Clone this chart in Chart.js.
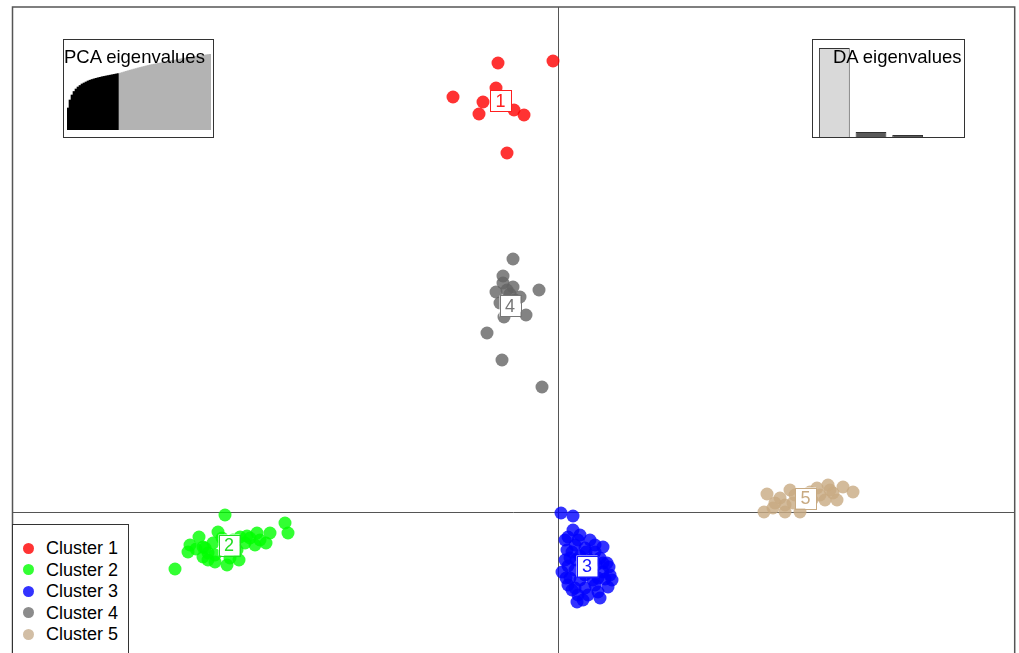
<!DOCTYPE html>
<html>
<head>
<meta charset="utf-8">
<script src="https://cdn.jsdelivr.net/npm/chart.js@4"></script>
<style>
  html, body { margin:0; padding:0; background:#fff; overflow:hidden; }
  #wrap { position:relative; width:1019px; height:653px; font-family:"Liberation Sans", Arial, sans-serif; }
  #main { position:absolute; left:0; top:0; }
  .box { position:absolute; border:1px solid #333; background:#fff; box-sizing:border-box; }
  .ttl { position:absolute; font-size:18.5px; line-height:18px; color:#000; white-space:nowrap; }
  .inset { position:absolute; }
  .lg { position:absolute; font-size:18px; line-height:18px; color:#000; white-space:nowrap; }
  .dot { position:absolute; width:11px; height:11px; border-radius:50%; }
</style>
</head>
<body>
<div id="wrap">
  <canvas id="main" width="1019" height="653"></canvas>
</div>
<script>
// ---- data (discriminant function scores) ----
const clusterNames = ['Cluster 1', 'Cluster 2', 'Cluster 3', 'Cluster 4', 'Cluster 5'];
const clusterLabels = ['1', '2', '3', '4', '5'];

const c1x = [-6.0, -0.5, -6.2, -10.5, -7.5, -7.9, -4.4, -3.4, -5.1, -5.8];
const c1y = [44.9, 45.1, 42.4, 41.5, 41.0, 39.8, 40.2, 39.7, 35.9, 40.8];

const c2x = [-33.3, -27.3, -27.0, -28.8, -29.2, -30.1, -31.1, -31.3, -31.9, -33.1, -35.0, -37.0, -38.3, -35.9, -35.5, -34.0, -34.5, -31.8, -32.1, -32.5, -35.0, -35.5, -30.8, -32.8, -36.2, -29.8,
             -35.3, -34.3, -33.6, -30.3, -34.3, -36.8];
const c2y = [-0.3, -1.1, -2.1, -2.1, -3.1, -2.1, -2.4, -3.1, -4.8, -5.3, -4.8, -4.0, -5.7, -2.5, -3.5, -2.0, -3.1, -2.5, -3.8, -2.8, -4.1, -4.5, -2.6, -4.6, -3.7, -2.8,
             -3.6, -4.3, -2.6, -3.3, -5.0, -3.3];

const c3x = [0.3, 1.5, 1.5, 1.0, 2.2, 3.2, 4.5, 0.9, 1.7, 2.7, 3.7, 1.2, 2.2, 4.2, 4.9, 0.4, 1.0, 1.7, 3.2, 4.5, 5.1, 1.2, 2.2, 3.5, 4.7, 1.7, 2.7, 4.0, 5.0, 3.0, 1.9, 2.5, 3.8, 1.4, 0.7,
             0.7, 2.0, 3.7, 1.4, 3.2, 4.5, 0.8, 2.7, 4.0, 5.2, 2.0, 3.7, 1.0, 5.4, 2.8, 1.8, 4.2, 2.5];
const c3y = [-0.1, -0.4, -1.8, -2.5, -2.3, -2.8, -3.5, -3.8, -3.3, -3.6, -4.0, -4.6, -4.4, -4.6, -5.1, -6.0, -5.4, -5.8, -6.0, -6.0, -5.5, -6.6, -6.8, -6.8, -6.7, -7.6, -7.6, -8.0, -7.5, -8.3, -9.0, -5.1, -5.3, -7.8, -4.8,
             -2.8, -2.8, -3.3, -4.0, -4.8, -5.1, -6.6, -6.3, -6.6, -6.3, -8.3, -7.3, -7.3, -6.8, -4.0, -4.8, -8.6, -8.8];

const c4x = [-4.5, -5.5, -5.5, -4.5, -6.2, -1.9, -3.8, -5.8, -3.2, -5.4, -7.1, -5.6, -1.6, -4.8, -5.0, -5.1, -4.3];
const c4y = [25.3, 23.6, 22.9, 22.5, 22.0, 22.2, 21.5, 20.9, 19.7, 19.5, 17.9, 15.2, 12.5, 21.8, 20.7, 22.2, 21.2];

const c5x = [20.9, 20.6, 22.7, 24.2, 22.2, 23.2, 27.0, 28.5, 29.5, 27.9, 26.2, 25.9, 21.7, 23.5, 26.7, 27.5, 21.5, 25.2, 23.7, 25.4, 22.7, 27.2];
const c5y = [1.8, 0.0, 0.0, 0.0, 1.4, 2.2, 2.7, 2.5, 2.0, 1.2, 1.7, 2.4, 0.9, 0.9, 1.2, 1.9, 0.4, 2.0, 1.7, 1.2, 0.7, 2.2];

// cluster centroids (label positions)
const centroidX = [-5.75, -32.9, 2.9, -4.8, 24.75];
const centroidY = [41.1, -3.3, -5.4, 20.6, 1.4];

// inset: cumulative PCA eigenvalues (first 26 retained)
const pcaCumEig = [22, 30, 35, 38.5, 41, 43, 44.5, 46, 47, 48, 49, 49.8, 50.5, 51.1, 51.7, 52.2, 52.7, 53.2, 53.6, 54,
                   54.4, 54.8, 55.2, 55.6, 56, 56.4, 56.8, 57.4, 58, 58.6, 59.2, 59.8, 60.3, 60.9, 61.4, 62, 62.5, 63, 63.5, 64,
                   64.5, 65, 65.4, 65.8, 66.2, 66.6, 67, 67.4, 67.8, 68.2, 68.6, 69, 69.4, 69.8, 70.2, 70.6, 71, 71.4, 71.8, 72.1,
                   72.4, 72.7, 73, 73.3, 73.6, 73.9, 74.2, 74.5, 74.8, 75.1, 75.4, 75.7];
const pcaRetained = 26;
// inset: DA eigenvalues
const daEig = [890, 50, 20];

// ---- styles ----
const colors = ['rgba(255,0,0,0.8)', 'rgba(0,255,0,0.8)', 'rgba(0,0,255,0.8)', 'rgba(100,100,100,0.8)', 'rgba(200,170,130,0.8)'];
const solid = ['#ff2020', '#22dd22', '#1a1aff', '#777777', '#c8aa82'];
const legendColors = ['#ff3333', '#33ff33', '#3333ff', '#8c8c8c', '#d2bea5'];

const xs = [c1x, c2x, c3x, c4x, c5x];
const ys = [c1y, c2y, c3y, c4y, c5y];

const datasets = clusterNames.map((name, k) => ({
  label: name,
  data: xs[k].map((v, i) => ({ x: v, y: ys[k][i] })),
  backgroundColor: colors[k],
  borderWidth: 0,
  pointRadius: 6.5,
  pointHoverRadius: 6.5
}));

const framePlugin = {
  id: 'frame',
  beforeDatasetsDraw(chart) {
    const { ctx, chartArea: a, scales: { x, y } } = chart;
    ctx.save();
    ctx.strokeStyle = '#555';
    ctx.lineWidth = 1;
    const x0 = Math.round(x.getPixelForValue(0)) + 0.5;
    const y0 = Math.round(y.getPixelForValue(0)) + 0.5;
    ctx.beginPath();
    ctx.moveTo(x0, a.top); ctx.lineTo(x0, a.bottom);
    ctx.moveTo(a.left, y0); ctx.lineTo(a.right, y0);
    ctx.stroke();
    ctx.restore();
  },
  afterDatasetsDraw(chart) {
    const { ctx, chartArea: a, scales: { x, y } } = chart;
    ctx.save();
    // cluster labels
    ctx.font = '18px "Liberation Sans", Arial, sans-serif';
    ctx.textAlign = 'center';
    ctx.textBaseline = 'middle';
    centroidX.forEach((cx, i) => {
      const px = x.getPixelForValue(cx);
      const py = y.getPixelForValue(centroidY[i]);
      ctx.fillStyle = '#fff';
      ctx.fillRect(px - 10.5, py - 10.5, 21, 21);
      ctx.strokeStyle = solid[i];
      ctx.lineWidth = 1;
      ctx.strokeRect(Math.round(px - 10.5) + 0.5, Math.round(py - 10.5) + 0.5, 21, 21);
      ctx.fillStyle = solid[i];
      ctx.fillText(clusterLabels[i], px, py + 1);
    });
    // frame
    ctx.strokeStyle = '#555';
    ctx.lineWidth = 1.5;
    ctx.beginPath();
    ctx.moveTo(a.left, a.bottom + 5);
    ctx.lineTo(a.left, a.top);
    ctx.lineTo(a.right, a.top);
    ctx.lineTo(a.right, a.bottom + 5);
    ctx.stroke();
    ctx.restore();
  }
};

new Chart(document.getElementById('main'), {
  type: 'scatter',
  data: { datasets },
  options: {
    responsive: false,
    animation: false,
    events: [],
    layout: { autoPadding: false, padding: { left: 12.5, top: 7, right: 4.3, bottom: 0 } },
    plugins: { legend: { display: false }, tooltip: { enabled: false } },
    scales: {
      x: { type: 'linear', display: false, min: -54.55, max: 45.67 },
      y: { type: 'linear', display: false, min: -14.1, max: 50.5 }
    }
  },
  plugins: [framePlugin]
});

// ---- insets ----
const wrap = document.getElementById('wrap');
function el(tag, cls, style, text) {
  const e = document.createElement(tag);
  if (cls) e.className = cls;
  Object.assign(e.style, style);
  if (text) e.textContent = text;
  wrap.appendChild(e);
  return e;
}

// PCA inset
el('div', 'box', { left: '63px', top: '39px', width: '151px', height: '99px' });
const pcaCanvas = el('canvas', 'inset', { left: '67px', top: '40px' });
pcaCanvas.width = 144; pcaCanvas.height = 90;
new Chart(pcaCanvas, {
  type: 'bar',
  data: {
    labels: pcaCumEig.map((_, i) => String(i + 1)),
    datasets: [{
      data: pcaCumEig,
      backgroundColor: pcaCumEig.map((_, i) => i < pcaRetained ? '#000000' : '#b3b3b3'),
      borderWidth: 0,
      barPercentage: 1,
      categoryPercentage: 1
    }]
  },
  options: {
    responsive: false, animation: false, events: [],
    layout: { autoPadding: false, padding: 0 },
    plugins: { legend: { display: false }, tooltip: { enabled: false } },
    scales: { x: { display: false }, y: { display: false, min: 0, max: 90 } }
  }
});
el('div', 'ttl', { left: '64px', top: '48px' }, 'PCA eigenvalues');

// DA inset
el('div', 'box', { left: '812px', top: '39px', width: '153px', height: '99px' });
const daCanvas = el('canvas', 'inset', { left: '816px', top: '40px' });
daCanvas.width = 110; daCanvas.height = 97;
new Chart(daCanvas, {
  type: 'bar',
  data: {
    labels: daEig.map((_, i) => String(i + 1)),
    datasets: [{
      data: daEig,
      backgroundColor: daEig.map((_, i) => i === 0 ? '#d9d9d9' : '#595959'),
      borderColor: '#333',
      borderWidth: 1,
      barPercentage: 0.84,
      categoryPercentage: 1
    }]
  },
  options: {
    responsive: false, animation: false, events: [],
    layout: { autoPadding: false, padding: 0 },
    plugins: { legend: { display: false }, tooltip: { enabled: false } },
    scales: { x: { display: false }, y: { display: false, min: 0, max: 970 } }
  }
});
el('div', 'ttl', { left: '833px', top: '48px' }, 'DA eigenvalues');

// legend
el('div', 'box', { left: '12px', top: '524px', width: '117px', height: '140px' });
const rowBase = [554.3, 575.8, 597.3, 618.8, 640.3];
clusterNames.forEach((name, i) => {
  el('div', 'dot', { left: '23px', top: (rowBase[i] - 11.5) + 'px', background: legendColors[i] });
  el('div', 'lg', { left: '46px', top: (rowBase[i] - 15.2) + 'px' }, name);
});
</script>
</body>
</html>
